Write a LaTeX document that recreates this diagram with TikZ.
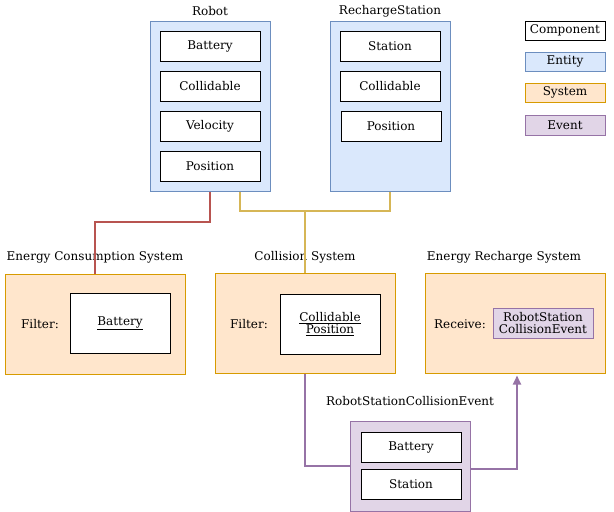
\documentclass[tikz,border=0pt]{standalone}
\usepackage{fontspec}
\setmainfont{DejaVu Serif}
\usetikzlibrary{arrows.meta}
\definecolor{entfill}{HTML}{DAE8FC}
\definecolor{entline}{HTML}{6C8EBF}
\definecolor{sysfill}{HTML}{FFE6CC}
\definecolor{sysline}{HTML}{D79B00}
\definecolor{evtfill}{HTML}{E1D5E7}
\definecolor{evtline}{HTML}{9673A6}
\definecolor{redline}{HTML}{B85450}
\definecolor{yelline}{HTML}{D6B656}

\begin{document}
\begin{tikzpicture}[x=1pt, y=-1pt, font=\fontsize{12}{14}\selectfont,
    every node/.style={inner sep=0pt},
    comp/.style={draw, fill=white, line width=1pt, minimum width=100pt, minimum height=30pt},
    entity/.style={draw=entline, fill=entfill, line width=1pt, minimum width=120pt},
    system/.style={draw=sysline, fill=sysfill, line width=1pt, minimum width=180pt, minimum height=100pt},
    event/.style={draw=evtline, fill=evtfill, line width=1pt},
    wire/.style={line width=2pt}]
    \useasboundingbox (0,0) rectangle (614,512);

    % legend
    \node[comp, minimum width=80pt, minimum height=19pt] (lcomp) at (565,30.5) {Component};
    \node[entity, minimum width=80pt, minimum height=19pt] (lent) at (565,61.5) {Entity};
    \node[system, minimum width=80pt, minimum height=19pt] (lsys) at (565,92.5) {System};
    \node[event, minimum width=80pt, minimum height=20pt] (levt) at (565,125) {Event};

    % entities
    \node[entity, minimum height=170pt] (robot) at (210,106) {};
    \node (robottitle) at (210,11) {Robot};
    \node[comp] (rbat) at (210,46) {Battery};
    \node[comp] (rcol) at (210,86) {Collidable};
    \node[comp] (rvel) at (210,126) {Velocity};
    \node[comp] (rpos) at (210,166) {Position};

    \node[entity, minimum height=170pt] (station) at (390,106) {};
    \node (stationtitle) at (390,11) {RechargeStation};
    \node[comp] (sst) at (390,46) {Station};
    \node[comp] (scol) at (390,86) {Collidable};
    \node[comp] (spos) at (391,126) {Position};

    % systems
    \node[system] (ecs) at (95,324) {};
    \node (ecstitle) at (95,257) {Energy Consumption System};
    \node (ecsfilter) at (40,324) {Filter:};
    \node[comp, minimum height=60pt] (ecsbat) at (120,323) {\underline{Battery}};

    \node[system] (colsys) at (305,323) {};
    \node (colsystitle) at (305,257) {Collision System};
    \node (colsysfilter) at (249,324) {Filter:};
    \node[comp, minimum height=60pt, align=center] (colsyscomp) at (330,324)
        {\underline{Collidable}\\[-2pt]\underline{Position}};

    \node[system] (ers) at (515,323) {};
    \node (erstitle) at (504,257) {Energy Recharge System};
    \node (ersrecv) at (460,324) {Receive:};
    \node[event, minimum width=100pt, minimum height=30pt, align=center] (ersevt) at (543,323)
        {RobotStation\\[-2pt]CollisionEvent};

    % event
    \node[event, minimum width=120pt, minimum height=90pt] (evt) at (410,466) {};
    \node (evttitle) at (410,401) {RobotStationCollisionEvent};
    \node[comp] (ebat) at (411,447) {Battery};
    \node[comp] (est) at (411,484) {Station};

    % connectors
    \coordinate (join) at (305,211);
    \draw[wire, redline] (robot.south) -- ++(0,30) -| (ecs.north);
    \draw[wire, yelline] ([xshift=30pt]robot.south) |- (join) -| (station.south);
    \draw[wire, yelline] (join) -- (colsys.north);
    \draw[wire, evtline] (colsys.south) |- (evt.west);
    \draw[wire, evtline, -{Triangle[length=9pt,width=8pt]}] ([yshift=-3pt]evt.east) -| ([xshift=2pt,yshift=-2pt]ers.south);
\end{tikzpicture}
\end{document}
